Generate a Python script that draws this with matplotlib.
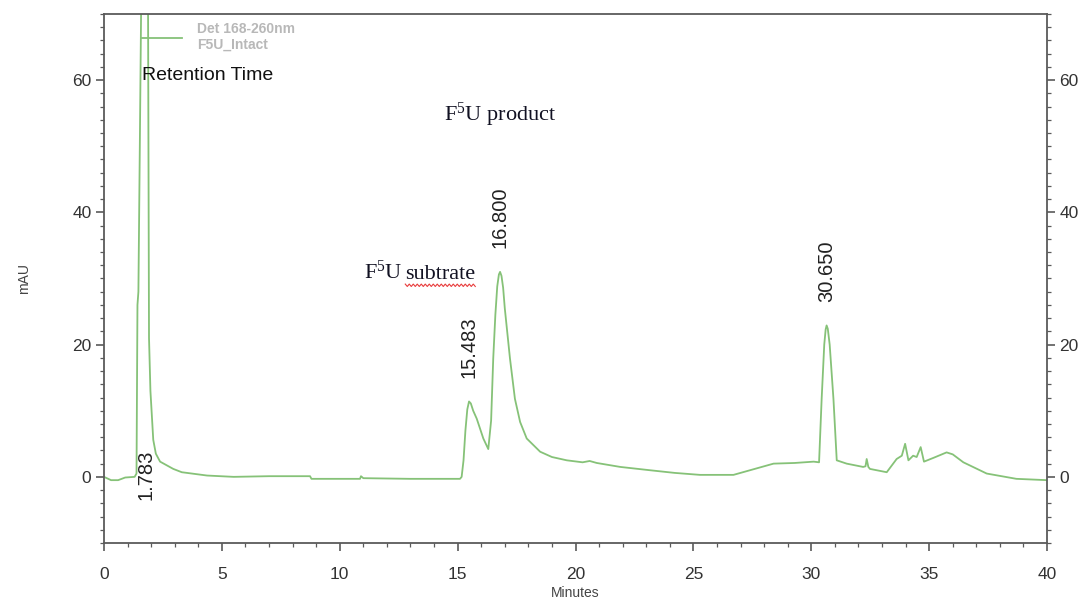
import numpy as np
import matplotlib
matplotlib.use("Agg")
import matplotlib.pyplot as plt
from matplotlib.transforms import IdentityTransform
from matplotlib.ticker import MultipleLocator

plt.rcParams["font.family"] = ["Liberation Sans", "DejaVu Sans"]
plt.rcParams["mathtext.fontset"] = "custom"
plt.rcParams["mathtext.rm"] = "Liberation Serif"
plt.rcParams["mathtext.it"] = "Liberation Serif:italic"

# detector trace (minutes, mAU); the solvent-front peak runs off scale
minutes = [0.0, 0.3, 0.6, 0.9, 1.3, 1.38, 1.42, 1.46, 1.52, 1.6, 1.783, 1.87, 1.91, 1.97,
           2.09, 2.2, 2.38, 2.94, 3.3, 4.37, 5.5, 7.0, 8.74, 8.8, 10.86, 10.9, 11.0, 13.0,
           15.1, 15.17, 15.25, 15.33, 15.41, 15.483, 15.56, 15.66, 15.81, 16.09, 16.3,
           16.42, 16.51, 16.6, 16.68, 16.75, 16.8, 16.86, 16.93, 17.0, 17.22, 17.43, 17.65,
           17.93, 18.5, 19.0, 19.63, 20.3, 20.6, 20.9, 21.9, 23.16, 24.2, 25.28, 26.7,
           27.4, 28.4, 29.3, 30.1, 30.33, 30.44, 30.55, 30.61, 30.65, 30.7, 30.78, 30.94,
           31.08, 31.5, 32.2, 32.3, 32.35, 32.42, 32.49, 33.2, 33.62, 33.84, 33.98, 34.12,
           34.32, 34.47, 34.64, 34.78, 35.2, 35.74, 36.0, 36.45, 37.44, 38.7, 40.0]
mau = [0.0, -0.5, -0.5, -0.1, 0.0, 0.5, 26.0, 28.0, 50.0, 80.0, 140.0, 70.0, 21.0, 13.0,
       5.6, 3.5, 2.3, 1.2, 0.7, 0.2, 0.0, 0.1, 0.1, -0.3, -0.3, 0.1, -0.2, -0.3,
       -0.3, 0.0, 2.5, 7.0, 10.2, 11.4, 11.1, 10.0, 8.8, 5.8, 4.2,
       8.5, 17.9, 24.5, 28.8, 30.6, 31.0, 30.4, 28.6, 25.5, 17.9, 11.8, 8.3,
       5.8, 3.8, 3.0, 2.5, 2.2, 2.4, 2.1, 1.5, 1.0, 0.6, 0.3, 0.3,
       1.0, 2.0, 2.1, 2.3, 2.2, 11.8, 20.0, 22.3, 22.9, 22.4, 20.0, 11.8,
       2.5, 2.0, 1.5, 1.6, 2.7, 1.5, 1.2, 0.7, 2.7, 3.2, 5.0, 2.5,
       3.2, 3.0, 4.5, 2.3, 2.9, 3.7, 3.4, 2.2, 0.5, -0.3, -0.5]

# integrated peaks: retention time, height the label sits at
peak_times = [15.483, 16.800, 30.650]
peak_heights = [11.4, 31.0, 22.9]
front_time = 1.783

fig = plt.figure(figsize=(10.82, 6.06), dpi=100)
ax = fig.add_axes([0.0961, 0.1040, 0.8716, 0.8729])

green = "#86c278"
ax.plot(minutes, mau, color=green, lw=1.3, label="Det 168-260nm\nF5U_Intact")

ax.set_xlim(0, 40)
ax.set_ylim(-10, 70)
ax.xaxis.set_major_locator(MultipleLocator(5))
ax.xaxis.set_minor_locator(MultipleLocator(1))
ax.yaxis.set_major_locator(MultipleLocator(20))
ax.yaxis.set_minor_locator(MultipleLocator(2))

for s in ax.spines.values():
    s.set_color("#5a5a5a")
    s.set_linewidth(1.3)
ax.tick_params(which="both", direction="out", colors="#5a5a5a", labelcolor="#333333",
               labelsize=12.5, right=True, labelright=True)
ax.tick_params(which="major", length=6, width=1.2)
ax.tick_params(which="minor", length=3, width=0.9)
ax.tick_params(axis="x", which="major", pad=11)
ax.tick_params(axis="y", which="major", pad=3)

ax.set_xlabel("Minutes", fontsize=10, color="#444444", labelpad=3)
ax.set_ylabel("mAU", fontsize=10, color="#444444", labelpad=30)

leg = ax.legend(loc="upper left", bbox_to_anchor=(0.040, 0.985), frameon=False,
                borderpad=0, borderaxespad=0, handlelength=2.9, handletextpad=1.1,
                prop={"size": 10, "weight": "bold"})
for t in leg.get_texts():
    t.set_color("#b8b8b8")

# retention times written above each peak
for t, h in zip(peak_times, peak_heights):
    ax.annotate(f"{t:.3f}", xy=(t, h), xytext=(0, 17), textcoords="offset points",
                rotation=90, ha="center", va="bottom", fontsize=14.5, color="#222222")
ax.annotate(f"{front_time:.3f}", xy=(front_time, 4.1), rotation=90, ha="center",
            va="top", fontsize=14.5, color="#222222")

ax.text(1.61, 60.7, "Retention Time", fontsize=14, color="#111111", va="center")
ax.text(14.42, 54.8, "F$^5$U product", family="Liberation Serif", fontsize=16,
        color="#111122", va="center")
sub_f = ax.text(11.03, 29.2, "F$^5$U", family="Liberation Serif", fontsize=16,
                color="#111122", va="bottom")
sub_word = ax.annotate("subtrate", xy=(1, 0), xycoords=sub_f, xytext=(2, 0),
                       textcoords="offset points", family="Liberation Serif",
                       fontsize=16, color="#111122", va="bottom")

# red spell-check squiggle under the second word
fig.canvas.draw()
bb = sub_word.get_window_extent(fig.canvas.get_renderer())
xs = np.arange(bb.x0, bb.x1 + 1, 2.0)
ys = bb.y0 - 1.5 + np.where(np.arange(len(xs)) % 2 == 0, 1.2, -1.2)
ax.plot(xs, ys, color="#e83c3c", lw=0.8, transform=IdentityTransform(), clip_on=False)

fig.savefig("out.png", dpi=100)
